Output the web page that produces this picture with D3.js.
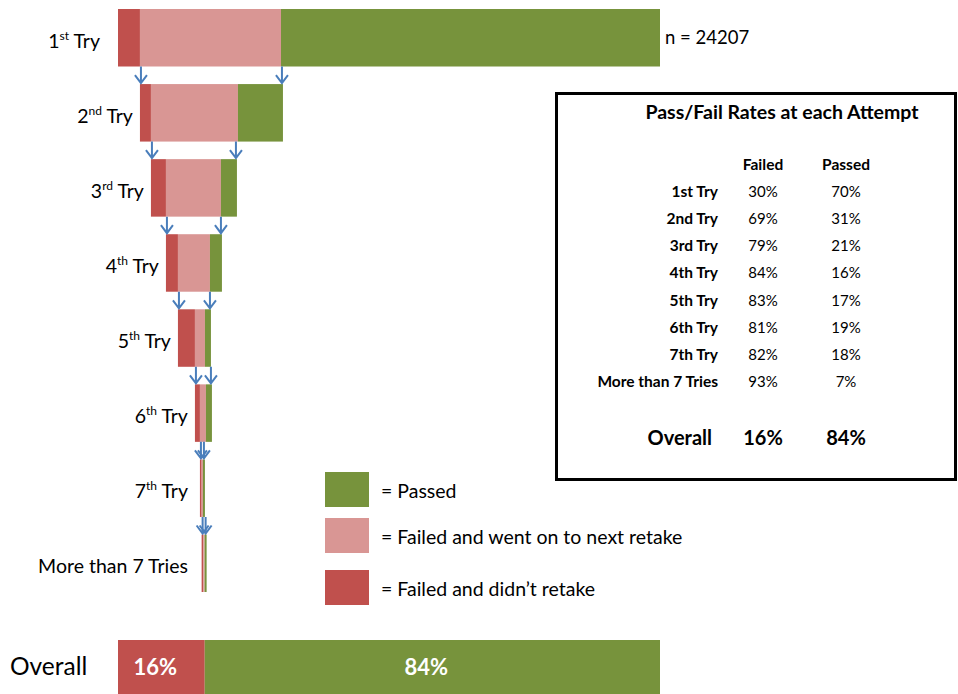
<!DOCTYPE html>
<html>
<head>
<meta charset="utf-8">
<script src="https://cdn.jsdelivr.net/npm/d3@7"></script>
<style>
  body { margin: 0; background: #fff; }
  svg { display: block; font-family: Lato, "Open Sans", sans-serif; }
</style>
</head>
<body>
<div id="chart"></div>
<script>
const total = 24207;

// funnel rows (counts)
const tryNum = ['1', '2', '3', '4', '5', '6', '7', 'More than 7 Tries'];
const trySup = ['st', 'nd', 'rd', 'th', 'th', 'th', 'th', ''];
const failedStopped = [980, 491, 670, 536, 759, 223, 76, 76];
const failedRetook = [6300, 3886, 2456, 1429, 447, 268, 58, 58];
const passed = [16927, 2010, 715, 536, 268, 268, 89, 89];

// summary table
const tableRows = ['1st Try', '2nd Try', '3rd Try', '4th Try', '5th Try', '6th Try', '7th Try', 'More than 7 Tries'];
const tableFailed = [30, 69, 79, 84, 83, 81, 82, 93];
const tablePassed = [70, 31, 21, 16, 17, 19, 18, 7];
const overallFailed = 16;
const overallPassed = 84;

const legendItems = ['= Passed', '= Failed and went on to next retake', '= Failed and didn\u2019t retake'];

const colors = { stopped: '#C0504D', retook: '#D99694', passed: '#77933C', arrow: '#4A7EBB' };

const width = 958;
const height = 694;

const svg = d3.select('#chart')
  .append('svg')
  .attr('width', width)
  .attr('height', height);

const x = d3.scaleLinear().domain([0, total]).range([118, 660]);
const y = d3.scaleBand()
  .domain(d3.range(tryNum.length))
  .range([9, 592])
  .paddingInner(0.234);

// build rows: each row starts where the previous row's "didn't retake" part ended
let offset = 0;
const rows = tryNum.map((t, i) => {
  const start = offset;
  offset += failedStopped[i];
  return {
    i,
    start,
    parts: [
      { key: 'stopped', x0: start, x1: start + failedStopped[i] },
      { key: 'retook', x0: start + failedStopped[i], x1: start + failedStopped[i] + failedRetook[i] },
      { key: 'passed', x0: start + failedStopped[i] + failedRetook[i], x1: start + failedStopped[i] + failedRetook[i] + passed[i] },
    ],
    end: start + failedStopped[i] + failedRetook[i] + passed[i],
  };
});

const bars = svg.append('g');
rows.forEach((row) => {
  bars.selectAll(null)
    .data(row.parts)
    .join('rect')
    .attr('x', (d) => x(d.x0))
    .attr('y', y(row.i))
    .attr('width', (d) => x(d.x1) - x(d.x0))
    .attr('height', y.bandwidth())
    .attr('fill', (d) => colors[d.key]);
});

// row labels
const labels = svg.append('g').attr('font-size', 19.5).attr('fill', '#000');
rows.forEach((row) => {
  let right = Math.min(x(row.start) - 7, 188);
  if (row.i === 0) right = 100;
  const t = labels.append('text')
    .attr('x', right)
    .attr('y', y(row.i) + y.bandwidth() / 2 + 10)
    .attr('text-anchor', 'end');
  if (trySup[row.i]) {
    t.append('tspan').text(tryNum[row.i]);
    t.append('tspan').attr('font-size', 12).attr('dy', -8).text(trySup[row.i]);
    t.append('tspan').attr('dy', 8).text(' Try');
  } else {
    t.text(tryNum[row.i]);
  }
});

svg.append('text')
  .attr('x', 665)
  .attr('y', y(0) + y.bandwidth() / 2 + 6)
  .attr('font-size', 18.5)
  .text(`n = ${total}`);

// arrows to the next attempt
const arrows = svg.append('g')
  .attr('stroke', colors.arrow)
  .attr('stroke-width', 2)
  .attr('fill', 'none');
rows.slice(1).forEach((row) => {
  const y0 = y(row.i - 1) + y.bandwidth();
  const y1 = y(row.i) - 1;
  [x(row.start) + 1, x(row.end) - 1].forEach((ax) => {
    arrows.append('path')
      .attr('d', `M${ax},${y0}V${y1}M${ax - 6},${y1 - 8}L${ax},${y1}L${ax + 6},${y1 - 8}`);
  });
});

// legend
const legendKeys = ['passed', 'retook', 'stopped'];
const legendY = [472, 518, 570];
const legend = svg.append('g');
legendItems.forEach((label, i) => {
  legend.append('rect')
    .attr('x', 325)
    .attr('y', legendY[i])
    .attr('width', 44)
    .attr('height', 35)
    .attr('fill', colors[legendKeys[i]]);
  legend.append('text')
    .attr('x', 381)
    .attr('y', legendY[i] + 26)
    .attr('font-size', 19.5)
    .text(label);
});

// overall bar
const overall = [
  { key: 'stopped', x0: 0, x1: total * overallFailed / 100, label: `${overallFailed}%` },
  { key: 'passed', x0: total * overallFailed / 100, x1: total, label: `${overallPassed}%` },
];
svg.append('g')
  .selectAll('rect')
  .data(overall)
  .join('rect')
  .attr('x', (d) => x(d.x0))
  .attr('y', 640)
  .attr('width', (d) => x(d.x1) - x(d.x0))
  .attr('height', 54)
  .attr('fill', (d) => colors[d.key]);
svg.append('g')
  .selectAll('text')
  .data(overall)
  .join('text')
  .attr('x', (d) => (x(d.x0) + x(d.x1)) / 2 - 6)
  .attr('y', 675)
  .attr('text-anchor', 'middle')
  .attr('font-size', 22)
  .attr('font-weight', 'bold')
  .attr('fill', '#fff')
  .text((d) => d.label);
svg.append('text')
  .attr('x', 10)
  .attr('y', 675)
  .attr('font-size', 24.5)
  .text('Overall');

// table box
const box = svg.append('g');
box.append('rect')
  .attr('x', 556.5)
  .attr('y', 93.5)
  .attr('width', 399)
  .attr('height', 386)
  .attr('fill', '#fff')
  .attr('stroke', '#000')
  .attr('stroke-width', 3);
box.append('text')
  .attr('x', 782)
  .attr('y', 119)
  .attr('text-anchor', 'middle')
  .attr('font-size', 19.5)
  .attr('font-weight', 'bold')
  .text('Pass/Fail Rates at each Attempt');

const colFailed = 763;
const colPassed = 846;
box.selectAll('.hdr')
  .data([['Failed', colFailed], ['Passed', colPassed]])
  .join('text')
  .attr('x', (d) => d[1])
  .attr('y', 170)
  .attr('text-anchor', 'middle')
  .attr('font-size', 15.5)
  .attr('font-weight', 'bold')
  .text((d) => d[0]);

const rowY = d3.scalePoint().domain(d3.range(tableRows.length)).range([197, 387]);
tableRows.forEach((label, i) => {
  box.append('text')
    .attr('x', 718)
    .attr('y', rowY(i))
    .attr('text-anchor', 'end')
    .attr('font-size', 15.5)
    .attr('font-weight', 'bold')
    .text(label);
  box.append('text')
    .attr('x', colFailed)
    .attr('y', rowY(i))
    .attr('text-anchor', 'middle')
    .attr('font-size', 15)
    .text(`${tableFailed[i]}%`);
  box.append('text')
    .attr('x', colPassed)
    .attr('y', rowY(i))
    .attr('text-anchor', 'middle')
    .attr('font-size', 15)
    .text(`${tablePassed[i]}%`);
});

const overallRow = box.append('g').attr('font-size', 20).attr('font-weight', 'bold');
overallRow.append('text').attr('x', 712).attr('y', 445).attr('text-anchor', 'end').text('Overall');
overallRow.append('text').attr('x', colFailed).attr('y', 445).attr('text-anchor', 'middle').text(`${overallFailed}%`);
overallRow.append('text').attr('x', colPassed).attr('y', 445).attr('text-anchor', 'middle').text(`${overallPassed}%`);
</script>
</body>
</html>
